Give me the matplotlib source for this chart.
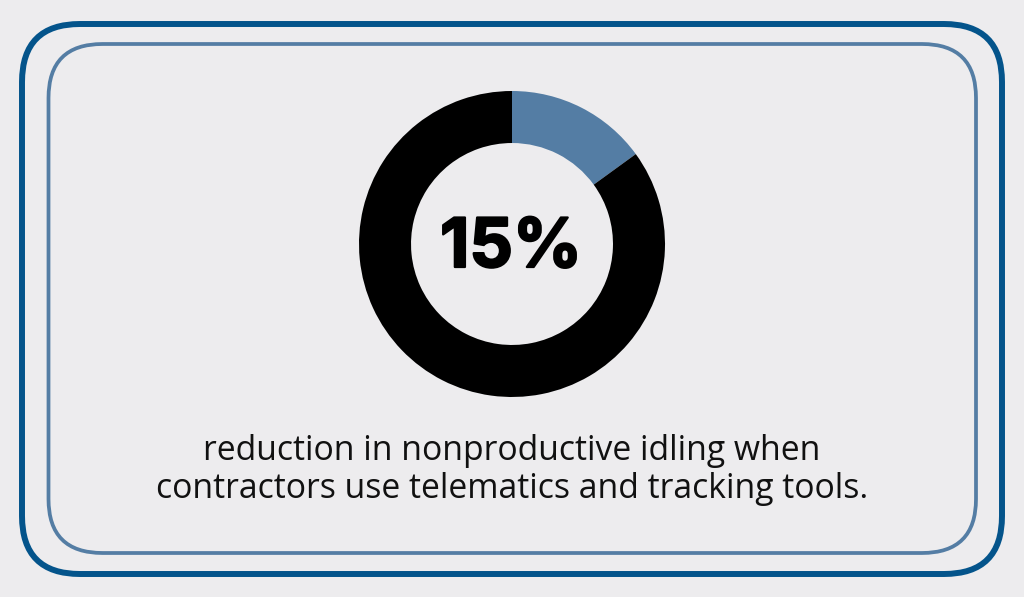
"""Donut stat card: 15% reduction in idling."""

import matplotlib.pyplot as plt
from matplotlib import patheffects
from matplotlib.patches import FancyBboxPatch

plt.rcParams["font.family"] = ["Open Sans", "DejaVu Sans"]

# data
slice_values = [15, 85]
slice_colors = ["#547da4", "#000000"]
big_label = "15%"
caption_lines = [
    "reduction in nonproductive idling when",
    "contractors use telematics and tracking tools.",
]

W, H = 1024, 597
BG = "#edecee"

fig = plt.figure(figsize=(W / 100, H / 100), dpi=100, facecolor=BG)

# pixel canvas for frames and text
canvas = fig.add_axes([0, 0, 1, 1])
canvas.set_xlim(0, W)
canvas.set_ylim(H, 0)
canvas.axis("off")


def rounded_frame(x0, y0, x1, y1, radius, color, lw):
    canvas.add_patch(
        FancyBboxPatch(
            (x0 + radius, y0 + radius),
            x1 - x0 - 2 * radius,
            y1 - y0 - 2 * radius,
            boxstyle=f"round,pad={radius},rounding_size={radius}",
            fill=False,
            edgecolor=color,
            linewidth=lw,
        )
    )


rounded_frame(22, 24, 1002, 574, 58, "#04548b", 4.3)
rounded_frame(48.5, 44, 976, 553, 54, "#547da4", 2.7)

# donut
cx, cy, r = 512, 244, 153
ax = fig.add_axes([(cx - r) / W, 1 - (cy + r) / H, 2 * r / W, 2 * r / H])
ax.pie(
    slice_values,
    colors=slice_colors,
    startangle=90,
    counterclock=False,
    radius=1.0,
    wedgeprops={"width": 0.34, "linewidth": 0},
)
ax.set_xlim(-1, 1)
ax.set_ylim(-1, 1)

big = canvas.text(511, 249, big_label, ha="center", va="center", fontsize=49, fontweight="bold", family=["Inter", "DejaVu Sans"], color="black")
# the reference face is heavier than the installed bold
big.set_path_effects([patheffects.withStroke(linewidth=1.6, foreground="black")])
canvas.text(512, 450.5, caption_lines[0], ha="center", va="center", fontsize=24.3, color="#111111")
canvas.text(512, 489, caption_lines[1], ha="center", va="center", fontsize=24.3, color="#111111")

fig.savefig("out.png", dpi=100, facecolor=BG)
